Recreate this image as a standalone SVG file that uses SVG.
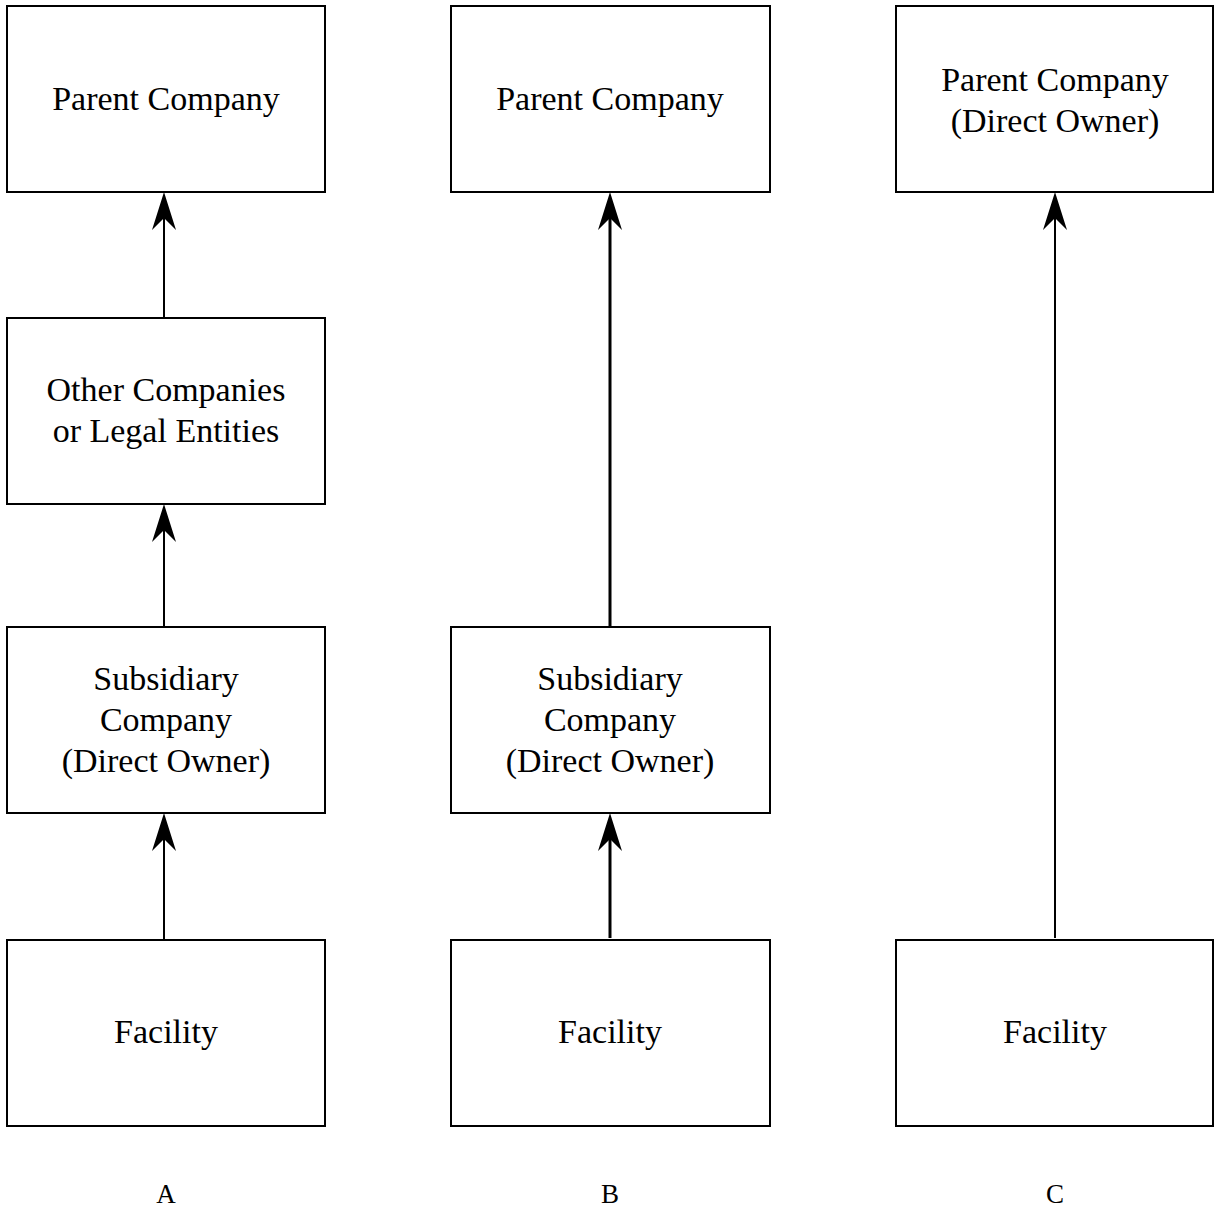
<svg xmlns="http://www.w3.org/2000/svg" width="1214" height="1209" viewBox="0 0 1214 1209">
<style>
.box{fill:#fff;stroke:#000;stroke-width:2}
.t{font-family:"Liberation Serif","Times New Roman",serif;font-size:34px;fill:#000;text-anchor:middle}
.lbl{font-family:"Liberation Serif","Times New Roman",serif;font-size:27px;fill:#000;text-anchor:middle}
.c{stroke:#000;fill:none;marker-end:url(#ah)}
</style>
<defs>
<marker id="ah" markerUnits="userSpaceOnUse" viewBox="-12 -12 38 24" markerWidth="38" markerHeight="24" refX="0" refY="0" orient="auto" overflow="visible">
<path d="M26,0 L-12,-12 L0,0 L-12,12 Z" fill="#000"/>
</marker>
</defs>
<rect width="1214" height="1209" fill="#fff"/>
<g id="connectors">
<line class="c" x1="164" y1="940" x2="164" y2="839" stroke-width="2"/>
<line class="c" x1="164" y1="627" x2="164" y2="530" stroke-width="2"/>
<line class="c" x1="164" y1="318" x2="164" y2="218" stroke-width="2"/>
<line class="c" x1="610" y1="938" x2="610" y2="839" stroke-width="3"/>
<line class="c" x1="610" y1="627" x2="610" y2="218" stroke-width="3"/>
<line class="c" x1="1055" y1="938" x2="1055" y2="218" stroke-width="2"/>
</g>
<g id="a-parent"><rect class="box" x="7" y="6" width="318" height="186"/><text class="t" x="166" y="110">Parent Company</text></g>
<g id="a-other"><rect class="box" x="7" y="318" width="318" height="186"/><text class="t" x="166" y="401">Other Companies</text><text class="t" x="166" y="442">or Legal Entities</text></g>
<g id="a-subsidiary"><rect class="box" x="7" y="627" width="318" height="186"/><text class="t" x="166" y="690">Subsidiary</text><text class="t" x="166" y="731">Company</text><text class="t" x="166" y="772">(Direct Owner)</text></g>
<g id="a-facility"><rect class="box" x="7" y="940" width="318" height="186"/><text class="t" x="166" y="1043">Facility</text></g>
<g id="b-parent"><rect class="box" x="451" y="6" width="319" height="186"/><text class="t" x="610" y="110">Parent Company</text></g>
<g id="b-subsidiary"><rect class="box" x="451" y="627" width="319" height="186"/><text class="t" x="610" y="690">Subsidiary</text><text class="t" x="610" y="731">Company</text><text class="t" x="610" y="772">(Direct Owner)</text></g>
<g id="b-facility"><rect class="box" x="451" y="940" width="319" height="186"/><text class="t" x="610" y="1043">Facility</text></g>
<g id="c-parent"><rect class="box" x="896" y="6" width="317" height="186"/><text class="t" x="1055" y="91">Parent Company</text><text class="t" x="1055" y="132">(Direct Owner)</text></g>
<g id="c-facility"><rect class="box" x="896" y="940" width="317" height="186"/><text class="t" x="1055" y="1043">Facility</text></g>
<g id="labels"><text class="lbl" x="166" y="1203">A</text><text class="lbl" x="610" y="1203">B</text><text class="lbl" x="1055" y="1203">C</text></g>
</svg>
